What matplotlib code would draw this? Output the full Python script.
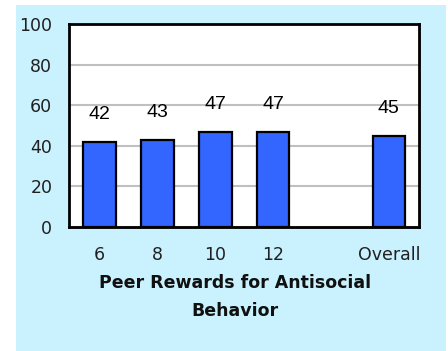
import matplotlib.pyplot as plt
from matplotlib.patches import Rectangle

# grade groups and the overall value
categories = ['6', '8', '10', '12', 'Overall']
positions = [0, 1, 2, 3, 5]
values = [42, 43, 47, 47, 45]
yticks = [0, 20, 40, 60, 80, 100]

W, H = 448, 351
fig = plt.figure(figsize=(W / 100, H / 100), dpi=100)
fig.patch.set_facecolor('white')

# light blue panel behind the chart
fig.patches.append(Rectangle((16 / W, 0), 430 / W, (H - 5) / H,
                             transform=fig.transFigure, facecolor='#C9F2FE',
                             edgecolor='none', zorder=-10))

left, bottom, width, height = 69, H - 227, 350, 203
# soft shadow under the plot frame
fig.patches.append(Rectangle(((left + 2) / W, (bottom - 2) / H), width / W, height / H,
                             transform=fig.transFigure, facecolor='#8A9AA0',
                             edgecolor='none', zorder=-5))

ax = fig.add_axes([left / W, bottom / H, width / W, height / H])
ax.set_zorder(1)
ax.set_facecolor('white')

ax.bar(positions, values, width=0.56, color='#3366FF', edgecolor='black',
       linewidth=1.6, zorder=3)
for x, v in zip(positions, values):
    ax.text(x, v + 13.5, str(v), ha='center', va='center', fontsize=14,
            family='Liberation Sans', zorder=4)

ax.set_ylim(0, 100)
ax.set_xlim(-0.53, 5.52)
ax.set_yticks(yticks)
ax.set_xticks(positions)
ax.set_xticklabels(categories)
ax.yaxis.grid(True, color='#C0C0C0', linewidth=1.5, zorder=1)
ax.tick_params(length=0, labelsize=12.5, labelcolor='#202020')
ax.tick_params(axis='y', pad=12)
ax.tick_params(axis='x', pad=14)
for s in ax.spines.values():
    s.set_linewidth(2)
    s.set_color('black')
    s.set_zorder(5)

ax.set_xlabel('Peer Rewards for Antisocial\nBehavior', fontsize=12.5,
              fontweight='bold', linespacing=1.75, color='#101010')
ax.xaxis.set_label_coords(0.474, -0.23)
ax.xaxis.label.set_va('top')

fig.savefig('out.png', dpi=100)
